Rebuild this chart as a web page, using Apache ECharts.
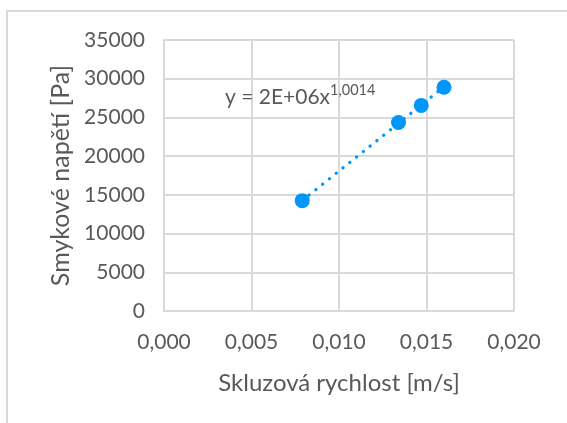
<!DOCTYPE html>
<html>
<head>
<meta charset="utf-8">
<script src="https://cdn.jsdelivr.net/npm/echarts@6/dist/echarts.min.js"></script>
<style>
  html,body{margin:0;padding:0;background:#fff;}
  #chart{width:567px;height:423px;}
</style>
</head>
<body>
<div id="chart"></div>
<script>
// Skluzova rychlost [m/s] vs smykove napeti [Pa]
var rychlost = [0.0079, 0.0134, 0.0147, 0.0160];
var napeti = [14250, 24350, 26550, 28900];
var xTicks = [0, 0.005, 0.01, 0.015, 0.02];
var yTicks = [0, 5000, 10000, 15000, 20000, 25000, 30000, 35000];
var rovnice = 'y = 2E+06x';
var exponent = '1,0014';

var modra = '#0096fa';
var seda = '#595959';
var mrizka = '#d9d9d9';
var pismo = 'Lato';

// mocninna regrese y = a*x^b (jako spojnice trendu v Excelu)
function powerFit(xs, ys){
	var n = xs.length, sx = 0, sy = 0, sxx = 0, sxy = 0;
	for (var i = 0; i < n; i++){
		var lx = Math.log(xs[i]), ly = Math.log(ys[i]);
		sx += lx; sy += ly; sxx += lx*lx; sxy += lx*ly;
	}
	var b = (n*sxy - sx*sy)/(n*sxx - sx*sx);
	var a = Math.exp((sy - b*sx)/n);
	return {a:a, b:b};
}

var fit = powerFit(rychlost, napeti);
var xMin = Math.min.apply(null, rychlost);
var xMax = Math.max.apply(null, rychlost);
var trend = [[xMin, fit.a*Math.pow(xMin, fit.b)], [xMax, fit.a*Math.pow(xMax, fit.b)]];

var body = [];
for (var i = 0; i < rychlost.length; i++){
	body.push([rychlost[i], napeti[i]]);
}

var chart = echarts.init(document.getElementById('chart'), null, {renderer:'canvas'});

var option = {
	animation:false,
	backgroundColor:'#fff',
	textStyle:{fontFamily:pismo},
	grid:{left:164, right:53, top:40, bottom:112},
	graphic:[
		{
			type:'rect',
			shape:{x:7, y:11, width:620, height:480},
			style:{fill:'none', stroke:mrizka, lineWidth:2},
			silent:true
		},
		{
			type:'text',
			left:225, top:83,
			style:{
				text:'{a|' + rovnice + '}{b|' + exponent + '}',
				fill:seda,
				rich:{
					a:{fontFamily:pismo, fontSize:21, lineHeight:25, color:seda, verticalAlign:'bottom'},
					b:{fontFamily:pismo, fontSize:14.5, lineHeight:14, color:seda, verticalAlign:'top'}
				}
			},
			z:10
		}
	],
	xAxis:{
		type:'value',
		min:xTicks[0], max:xTicks[xTicks.length-1], interval:0.005,
		name:'Skluzová rychlost [m/s]',
		nameLocation:'middle', nameGap:60,
		nameTextStyle:{color:seda, fontSize:24, fontFamily:pismo},
		axisLine:{show:true, lineStyle:{color:mrizka, width:2}},
		axisTick:{show:false},
		axisLabel:{color:seda, fontSize:21, margin:21, fontFamily:pismo,
			formatter:function(v){ return v.toFixed(3).replace('.', ','); }},
		splitLine:{show:true, lineStyle:{color:mrizka, width:2}}
	},
	yAxis:{
		type:'value',
		min:yTicks[0], max:yTicks[yTicks.length-1], interval:5000,
		name:'Smykové napětí [Pa]',
		nameLocation:'middle', nameGap:84,
		nameTextStyle:{color:seda, fontSize:25, fontFamily:pismo},
		axisLine:{show:true, lineStyle:{color:mrizka, width:2}},
		axisTick:{show:false},
		axisLabel:{color:seda, fontSize:21, margin:19, fontFamily:pismo,
			formatter:function(v){ return String(v); }},
		splitLine:{show:true, lineStyle:{color:mrizka, width:2}}
	},
	series:[
		{
			type:'line',
			data:trend,
			symbol:'none',
			z:2,
			lineStyle:{color:modra, width:3.3, type:[0.1, 8.6], cap:'round'}
		},
		{
			type:'scatter',
			data:body,
			symbol:'circle',
			symbolSize:15,
			z:3,
			itemStyle:{color:modra, opacity:1}
		}
	]
};

chart.setOption(option);
</script>
</body>
</html>
